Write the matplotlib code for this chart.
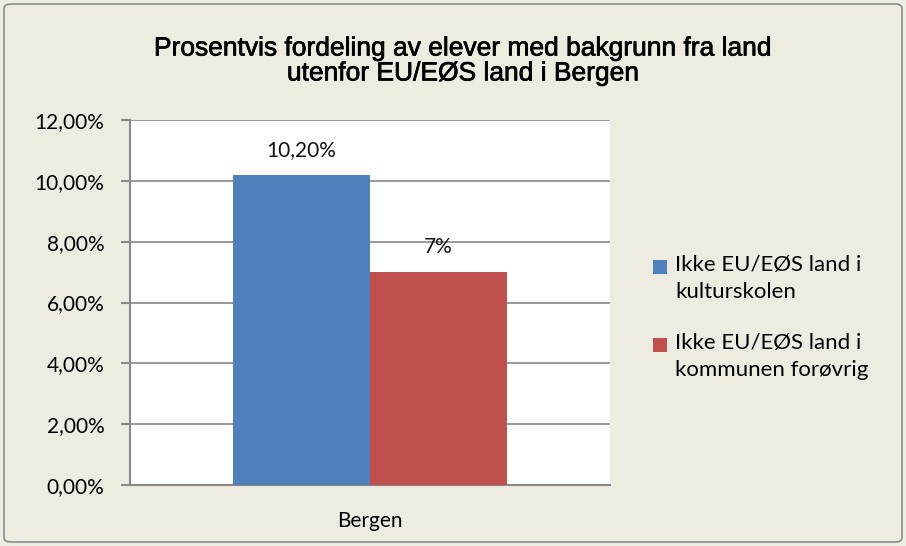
import matplotlib.pyplot as plt
import matplotlib.patheffects as pe
from matplotlib.patches import FancyBboxPatch, Rectangle

# data
category = ['Bergen']
series = ['Ikke EU/EØS land i\nkulturskolen', 'Ikke EU/EØS land i\nkommunen forøvrig']
values = [10.2, 7.0]
labels = ['10,20%', '7%']
colors = ['#4F81BD', '#C0504D']
yticks = [0, 2, 4, 6, 8, 10, 12]

bg = '#EEECE1'
W, H = 906, 546
fig = plt.figure(figsize=(W/100, H/100), dpi=100, facecolor=bg)
ax = fig.add_axes([130/W, 1-485/H, 480/W, 365/H])
ax.set_facecolor('white')

w = 0.286
offsets = [-w/2, w/2]
for v, lab, c, off in zip(values, labels, colors, offsets):
    ax.bar(off, v, width=w, color=c, zorder=3)
    ax.annotate(lab, (off, v), xytext=(0, 18), textcoords='offset points',
                ha='center', va='center', fontsize=15, family='Lato', color='#111111')

ax.set_xlim(-0.5, 0.5)
ax.set_ylim(0, 12)
ax.set_yticks(yticks)
ax.set_yticklabels(['%d,00%%' % t for t in yticks], family='Lato', fontsize=15)
ax.set_xticks([0])
ax.set_xticklabels(category, family='Lato', fontsize=15)
ax.tick_params(axis='x', length=0, pad=19)
ax.tick_params(axis='y', length=6.5, width=1.5, color='#888888', pad=12)
ax.grid(axis='y', color='#888888', linewidth=1.2, zorder=0)
for side in ['top', 'right']:
    ax.spines[side].set_visible(False)
for side in ['left', 'bottom']:
    ax.spines[side].set_color('#888888')
    ax.spines[side].set_linewidth(1.5)

title = fig.text(463/W, 1-61/H, 'Prosentvis fordeling av elever med bakgrunn fra land\nutenfor EU/EØS land i Bergen',
                 ha='center', va='center', fontsize=19, family='Liberation Sans', linespacing=1.05)
title.set_path_effects([pe.withStroke(linewidth=0.5, foreground='black')])

# legend (marker aligned with first line of each entry, as in Excel)
leg_y = [267, 345]
for s, c, y in zip(series, colors, leg_y):
    fig.patches.append(Rectangle((653/W, 1-(y+7)/H), 14/W, 14/H, transform=fig.transFigure,
                                 facecolor=c, edgecolor='none'))
    fig.text(675/W, 1-(y-12)/H, s, ha='left', va='top', fontsize=16, family='Lato',
             linespacing=1.45)

border = FancyBboxPatch((4/W, 4/H), 898/W, 538/H, boxstyle='round,pad=0,rounding_size=0.008',
                        transform=fig.transFigure, facecolor='none', edgecolor='#8c8c8c', linewidth=1.2)
fig.patches.append(border)

fig.savefig('out.png', dpi=100, facecolor=bg)
